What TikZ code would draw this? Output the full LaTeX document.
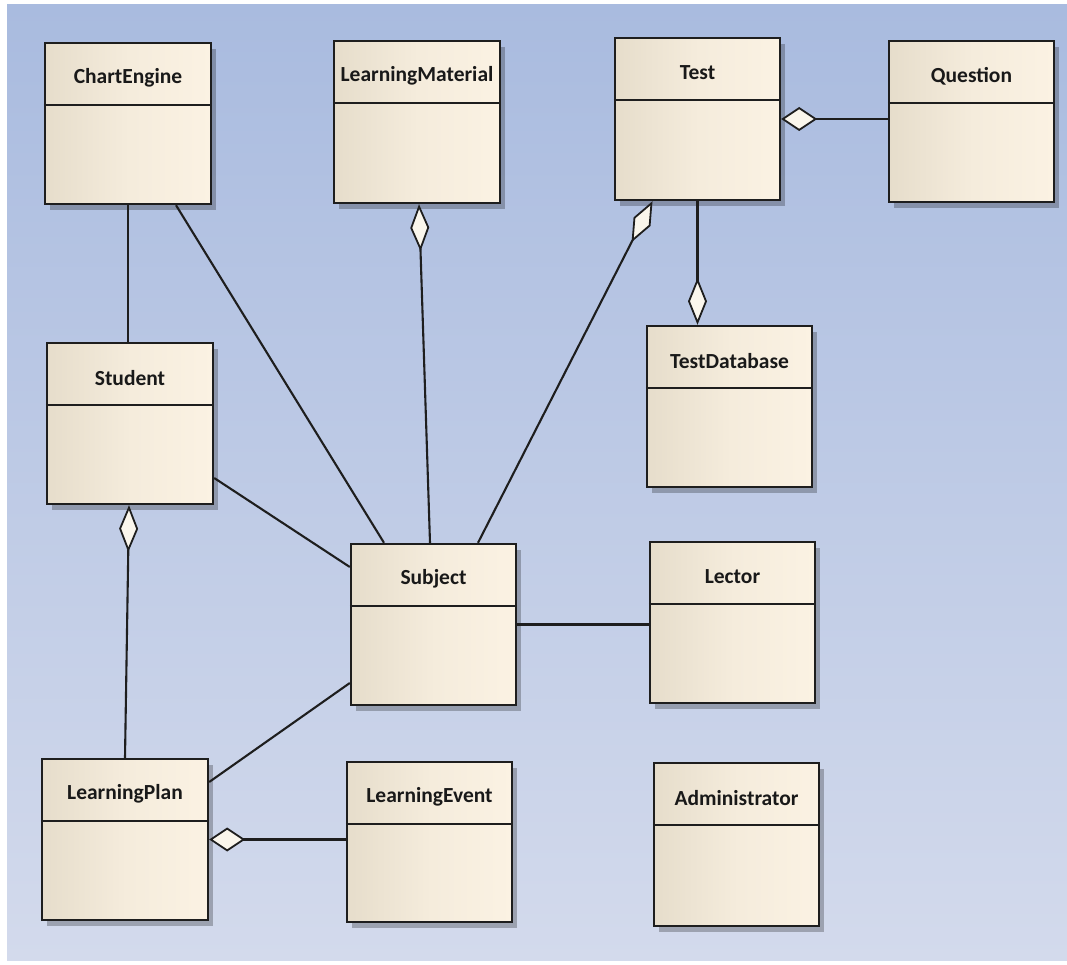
\documentclass[tikz,border=0pt]{standalone}
\usepackage{fontspec}
\setmainfont{Carlito}
\usetikzlibrary{arrows.meta,shadows}
\definecolor{bgtop}{HTML}{A9BBDF}
\definecolor{bgbot}{HTML}{D3DAEC}
\definecolor{boxleft}{HTML}{E6DDCB}
\definecolor{boxright}{HTML}{FBF2E3}
\definecolor{edgecol}{HTML}{1E1E1E}
\definecolor{diafill}{HTML}{FAF6EC}
\tikzset{
  classbox/.style={draw=edgecol, line width=2.4pt, rectangle, inner sep=0pt,
    left color=boxleft, right color=boxright, middle color=boxright!70!boxleft,
    drop shadow={shadow xshift=5pt, shadow yshift=-6pt, fill=black, opacity=0.25}},
  classname/.style={font=\bfseries\fontsize{21.5}{24}\selectfont, text=black!90, inner sep=0pt},
  divline/.style={draw=edgecol, line width=2.2pt},
  conn/.style={draw=edgecol, line width=2.1pt},
  aggh/.style={{Diamond[fill=diafill, length=36pt, width=24pt, line width=1.8pt]}-},
  aggv/.style={{Diamond[fill=diafill, length=47pt, width=19pt, line width=1.8pt]}-},
}
\newcommand{\umlclass}[6]{% name, left, top, right, bottom, text
  \node[classbox, minimum width=#4-#2, minimum height=#5-#3] (#1) at ({(#2+#4)/2},{(#3+#5)/2}) {};
  \draw[divline] ([yshift=-63pt]#1.north west) -- ([yshift=-63pt]#1.north east);
  \node[classname] (#1-name) at ([yshift=-36pt]#1.north) {#6};
}
\begin{document}
\begin{tikzpicture}[x=1pt,y=-1pt]
\useasboundingbox (0,0) rectangle (1067,965);
\fill[white] (0,0) rectangle (1067,965);
\shade[top color=bgtop, bottom color=bgbot] (7,5) rectangle (1067,960);

\umlclass{ce}{45}{43}{211}{204}{ChartEngine}
\umlclass{lm}{334}{41}{500}{203}{LearningMaterial}
\umlclass{te}{615}{38}{780}{200}{Test}
\umlclass{qu}{889}{41}{1054}{202}{Question}
\umlclass{st}{47}{343}{213}{504}{Student}
\umlclass{td}{647}{326}{812}{487}{TestDatabase}
\umlclass{su}{351}{544}{516}{705}{Subject}
\umlclass{lc}{650}{542}{815}{703}{Lector}
\umlclass{lp}{42}{759}{208}{920}{LearningPlan}
\umlclass{ev}{347}{762}{512}{922}{LearningEvent}
\umlclass{ad}{654}{763}{819}{926}{Administrator}

% connectors
\draw[conn] (ce.south) -- (ce.south |- st.north);
\draw[conn] ([xshift=48pt]ce.south) -- ([xshift=-49.5pt]su.north);
\draw[conn, aggv] ([xshift=2pt]lm.south) -- ([xshift=-3.5pt]su.north);
\draw[conn, {Diamond[fill=diafill, length=46pt, width=19pt, line width=1.8pt]}-] ([xshift=-45pt]te.south) -- ([xshift=44.5pt]su.north);
\draw[conn, aggv] (te.south |- td.north) -- (te.south);
\draw[conn, aggh] (te.east) -- (te.east -| qu.west);
\draw[conn] ([yshift=-54.5pt]st.east) -- ([yshift=57.5pt]su.west);
\draw[conn, aggv] ([xshift=-1pt]st.south) -- (lp.north);
\draw[conn] (su.east) -- (su.east -| lc.west);
\draw[conn] ([yshift=-58.5pt]su.west) -- ([yshift=57.5pt]lp.east);
\draw[conn, aggh] (lp.east) -- (lp.east -| ev.west);
\end{tikzpicture}
\end{document}
